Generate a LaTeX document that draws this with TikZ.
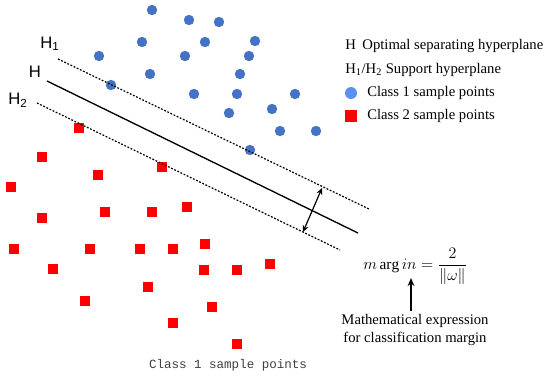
\documentclass[tikz,border=0pt]{standalone}
\usepackage{amsmath}
\usepackage{fontspec}
\setmainfont{Liberation Serif}
\newfontfamily\labfont{Liberation Sans}
\newfontfamily\monofont{Liberation Mono}
\usetikzlibrary{arrows.meta}
\definecolor{dotblue}{HTML}{4472C4}
\definecolor{legblue}{HTML}{5B8FF0}
\definecolor{sqred}{HTML}{FF0000}
\tikzset{
  bdot/.style={circle,fill=dotblue,inner sep=0pt,minimum size=7.8pt},
  rsq/.style={rectangle,fill=sqred,inner sep=0pt,minimum size=7.8pt},
  hline/.style={line width=1pt},
  sline/.style={line width=0.9pt,dash pattern=on 1.4pt off 1.2pt},
  hlab/.style={font=\labfont\fontsize{12.5}{14}\selectfont,inner sep=0pt},
  legtxt/.style={font=\fontsize{11}{13}\selectfont,anchor=west,inner sep=0pt},
}
\begin{document}
\begin{tikzpicture}[x=0.75pt,y=-0.75pt]
\useasboundingbox (0,0) rectangle (550,376);
% blue dots
\foreach \p [count=\i] in {(152,10),(189,20),(219,22),(142,42),(205,42),(255,41),(99,56),(185,56),(249,56),(150,74),(240,74),(111,85),(194,94),(237,94),(295,94),(229,113),(272,109),(280,131),(316,131),(250,150)}
  \node[bdot] (b\i) at \p {};
% red squares
\foreach \p [count=\i] in {(79,128),(42,157),(98,175),(162,167),(11,187),(42,218),(105,212),(152,212),(187,207),(14,249),(90,249),(140,249),(173,249),(205,244),(53,269),(204,270),(237,270),(270,264),(148,287),(85,301),(212,307),(173,323),(237,344)}
  \node[rsq] (r\i) at \p {};
% hyperplanes
\coordinate (h1a) at (58,59);  \coordinate (h1b) at (369,209);
\coordinate (ha) at (47,81);   \coordinate (hb) at (358,233);
\coordinate (h2a) at (37,103); \coordinate (h2b) at (340,250);
\draw[sline] (h1a) -- (h1b);
\draw[hline] (ha) -- (hb);
\draw[sline] (h2a) -- (h2b);
\coordinate (m1) at (322,188); \coordinate (m2) at (303,232);
\draw[line width=0.9pt,{Stealth[length=5pt,width=4.5pt]}-{Stealth[length=5pt,width=4.5pt]}] (m1) -- (m2);
\node[hlab] (lh1) at (50,44) {H\textsubscript{1}};
\node[hlab] (lh) at (35,72) {H};
\node[hlab] (lh2) at (18,100) {H\textsubscript{2}};
% legend
\node[legtxt] (l1) at (345,46) {H\hspace{0.45em}Optimal separating hyperplane};
\node[legtxt] (l2) at (345,70) {H\textsubscript{1}/H\textsubscript{2} Support hyperplane};
\node[circle,fill=legblue,inner sep=0pt,minimum size=9pt] (ld) at (351,93) {};
\node[legtxt] (l3) at (367,93) {Class 1 sample points};
\node[rectangle,fill=sqred,inner sep=0pt,minimum size=8.5pt] (ls) at (351,116) {};
\node[legtxt] (l4) at (367,116) {Class 2 sample points};
% formula
\node[anchor=west,inner sep=0pt,font=\fontsize{11.5}{13}\selectfont] (fm) at (363,266) {$m\arg in=\dfrac{2}{\left\|\omega\right\|}$};
\node[align=center,inner sep=0pt,font=\fontsize{11}{14}\selectfont] (fx) at (415,330) {Mathematical expression\\for classification margin};
\coordinate (ft) at (411,278);
\draw[line width=1pt,-{Stealth[length=6pt,width=5pt]}] (fx.north -| ft) ++(0,-3) -- (ft);
% bottom label
\node[inner sep=0pt,text=black!75,font=\monofont\fontsize{9.4}{11}\selectfont] (bl) at (228,365) {Class 1 sample points};
\end{tikzpicture}
\end{document}
